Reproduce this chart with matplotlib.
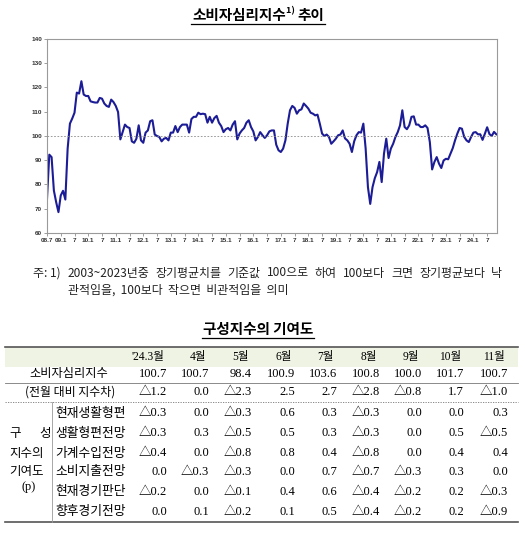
import numpy as np
import matplotlib.pyplot as plt
from matplotlib.patches import Rectangle

plt.rcParams['font.family'] = ['Noto Sans CJK KR', 'DejaVu Sans']

# 소비자심리지수, monthly from 2008.7 to 2024.11
start_year, start_month = 2008, 7
csi = [
    74.1, 92.3, 91.3, 77.5, 72.7, 68.6, 75.5, 77.4, 73.8, 94.8, 105.1, 107.2,
    109.6, 117.9, 117.5, 122.6, 117.1, 116.5, 116.5, 114.3, 114.0, 113.8, 113.8, 115.7,
    115.4, 113.4, 112.4, 112.0, 115.0, 114.0, 112.4, 109.9, 98.6, 101.6, 104.7, 103.7,
    103.3, 97.8, 97.2, 98.9, 104.4, 98.2, 97.2, 101.4, 102.3, 106.1, 106.5, 100.6,
    100.0, 99.6, 97.8, 98.9, 99.2, 98.2, 101.4, 101.4, 104.1, 101.6, 103.7, 104.7,
    104.7, 104.7, 101.4, 107.0, 107.9, 107.9, 109.6, 109.0, 109.2, 109.0, 105.5, 107.9,
    105.5, 107.4, 108.3, 105.5, 104.1, 101.6, 102.8, 103.3, 102.3, 104.7, 106.1, 98.6,
    101.0, 102.3, 103.3, 105.5, 106.5, 103.7, 101.9, 98.2, 99.6, 101.6, 100.3, 99.2,
    100.3, 101.9, 102.3, 102.3, 96.4, 94.1, 93.4, 94.8, 98.2, 105.1, 110.6, 112.4,
    111.6, 109.2, 110.6, 111.0, 113.4, 112.4, 111.3, 109.6, 109.2, 108.5, 108.8, 105.1,
    101.0, 100.0, 100.6, 99.6, 96.8, 97.8, 98.9, 100.3, 100.6, 102.3, 99.0, 98.2,
    96.8, 93.4, 97.8, 100.3, 101.6, 101.4, 105.1, 94.8, 78.9, 72.0, 78.9, 82.6,
    85.1, 89.3, 81.0, 92.7, 98.9, 90.9, 94.8, 96.8, 99.6, 101.6, 104.4, 110.6,
    103.7, 102.8, 104.4, 107.9, 108.1, 104.7, 104.7, 103.7, 103.7, 104.4, 103.3, 97.5,
    86.2, 89.3, 91.3, 88.6, 86.8, 89.9, 90.6, 90.4, 92.7, 95.0, 98.2, 101.0,
    103.3, 103.0, 99.6, 98.2, 97.5, 99.6, 101.4, 101.6, 100.7, 100.7, 98.4, 100.9,
    103.6, 100.8, 100.0, 101.7, 100.7,
]

# 구성지수의 기여도 table
months = ["'24.3월", '4월', '5월', '6월', '7월', '8월', '9월', '10월', '11월']
csi_recent = [100.7, 100.7, 98.4, 100.9, 103.6, 100.8, 100.0, 101.7, 100.7]
csi_diff = [-1.2, 0.0, -2.3, 2.5, 2.7, -2.8, -0.8, 1.7, -1.0]
comp_names = ['현재생활형편', '생활형편전망', '가계수입전망', '소비지출전망', '현재경기판단', '향후경기전망']
comp_values = [
    [-0.3, 0.0, -0.3, 0.6, 0.3, -0.3, 0.0, 0.0, 0.3],
    [-0.3, 0.3, -0.5, 0.5, 0.3, -0.3, 0.0, 0.5, -0.5],
    [-0.4, 0.0, -0.8, 0.8, 0.4, -0.8, 0.0, 0.4, 0.4],
    [0.0, -0.3, -0.3, 0.0, 0.7, -0.7, -0.3, 0.3, 0.0],
    [-0.2, 0.0, -0.1, 0.4, 0.6, -0.4, -0.2, 0.2, -0.3],
    [0.0, 0.1, -0.2, 0.1, 0.5, -0.4, -0.2, 0.2, -0.9],
]

note_prefix = '주: 1)'
note_line1 = '2003~2023년중 장기평균치를 기준값 100으로 하여 100보다 크면 장기평균보다 낙'
note_line2 = '관적임을, 100보다 작으면 비관적임을 의미'


def fmt(v):
    if v < 0:
        return '\u25b3%.1f' % (-v)
    return '%.1f' % v


fig = plt.figure(figsize=(5.25, 5.35), dpi=100)

# overlay in pixel coords for titles / table
ov = fig.add_axes([0, 0, 1, 1])
ov.set_xlim(0, 525)
ov.set_ylim(535, 0)
ov.axis('off')

num_font = ['Liberation Serif', 'Noto Sans CJK KR']

# ---- chart ----
ax = fig.add_axes([47 / 525, (535 - 233) / 535, 450 / 525, 194 / 535])
xs = np.arange(len(csi))
ax.plot(xs, csi, color='#1c1c96', lw=1.5)
ax.axhline(100, color='#8a8a8a', lw=0.6, ls=(0, (2, 2)))
ax.set_xlim(0, len(csi) - 0.7)
ax.set_ylim(60, 140)
ax.set_yticks(range(60, 141, 10))

ticks, labels = [], []
for i in range(len(csi)):
    m = (start_month - 1 + i) % 12 + 1
    y = start_year + (start_month - 1 + i) // 12
    if m in (1, 7):
        ticks.append(i)
        if i == 0:
            labels.append('%02d.%d' % (y % 100, m))
        elif m == 1:
            labels.append('%02d.1' % (y % 100))
        else:
            labels.append('7')
ax.set_xticks(ticks)
ax.set_xticklabels(labels)

for s in ax.spines.values():
    s.set_color('#9a9a9a')
    s.set_linewidth(0.8)
ax.tick_params(direction='out', length=2, width=0.5, color='#777777', pad=1.5)
for lbl in ax.get_xticklabels() + ax.get_yticklabels():
    lbl.set_fontsize(4.6)
    lbl.set_fontweight('bold')
    lbl.set_family('Liberation Sans')
    lbl.set_color('#333333')

renderer = fig.canvas.get_renderer()


def titled(y, parts, cx):
    objs = []
    for s, size, dy in parts:
        t = ov.text(0, y + dy, s, fontsize=size, fontweight='bold', ha='left', va='center')
        objs.append(t)
    widths = [t.get_window_extent(renderer).width for t in objs]
    total = sum(widths)
    x = cx - total / 2
    for t, w in zip(objs, widths):
        t.set_x(x)
        x += w
    ov.plot([cx - total / 2 - 1, cx + total / 2 + 1], [y + 9, y + 9], color='black', lw=0.9)


def justified(x0, x1, y, line, size):
    words = line.split(' ')
    objs = [ov.text(0, y, w, fontsize=size, ha='left', va='center', color='#222222') for w in words]
    widths = [t.get_window_extent(renderer).width for t in objs]
    gap = (x1 - x0 - sum(widths)) / (len(words) - 1)
    x = x0
    for t, w in zip(objs, widths):
        t.set_x(x)
        x += w + gap


titled(15, [('소비자심리지수', 10.5, 0), ('1) ', 6.5, -4), ('추이', 10.5, 0)], 258)

# ---- footnote ----
ov.text(33, 273, note_prefix, fontsize=8.6, ha='left', va='center', color='#222222')
justified(68, 502, 273, note_line1, 8.6)
ov.text(68, 290, note_line2.replace(' ', '  '), fontsize=8.6, ha='left', va='center', color='#222222')

# ---- table ----
titled(329, [('구성지수의 기여도', 10.5, 0)], 258)

left, right = 5, 518
ov.add_patch(Rectangle((left, 347), right - left, 20, facecolor='#eef3e3', edgecolor='none'))
ov.plot([left, right], [347, 347], color='#555555', lw=1.2)
ov.plot([left, right], [383, 383], color='#777777', lw=0.6)
ov.plot([left, right], [402, 402], color='#777777', lw=0.6, ls=(0, (1.5, 1.5)))
ov.plot([left, right], [522, 522], color='#555555', lw=1.2)
ov.plot([52, 52], [402, 522], color='#999999', lw=0.6)

col_right = [167, 209, 252, 295, 337, 380, 422, 464, 508]
for x, m in zip(col_right, months):
    ov.text(x - 3, 357, m, fontsize=8.3, ha='right', va='center', family=num_font)

ov.text(69, 374, '소비자심리지수', fontsize=8.8, ha='center', va='center')
ov.text(70, 392, '(전월 대비 지수차)', fontsize=8.6, ha='center', va='center')
for x, v in zip(col_right, csi_recent):
    ov.text(x, 374, '%.1f' % v, fontsize=9, ha='right', va='center', family=num_font)
for x, v in zip(col_right, csi_diff):
    ov.text(x, 392, fmt(v), fontsize=9, ha='right', va='center', family=num_font)

row_y = [413, 433, 453, 472, 492, 512]
for yy, name, vals in zip(row_y, comp_names, comp_values):
    ov.text(55, yy, name, fontsize=9.2, ha='left', va='center')
    for x, v in zip(col_right, vals):
        ov.text(x, yy, fmt(v), fontsize=9, ha='right', va='center', family=num_font)

ov.text(15, 433, '구', fontsize=9, ha='center', va='center')
ov.text(45, 433, '성', fontsize=9, ha='center', va='center')
ov.text(27, 453, '지수의', fontsize=9, ha='center', va='center')
ov.text(27, 472, '기여도', fontsize=9, ha='center', va='center')
ov.text(29, 487, '(p)', fontsize=9, ha='center', va='center', family=num_font)

fig.savefig('out.png', dpi=100)
